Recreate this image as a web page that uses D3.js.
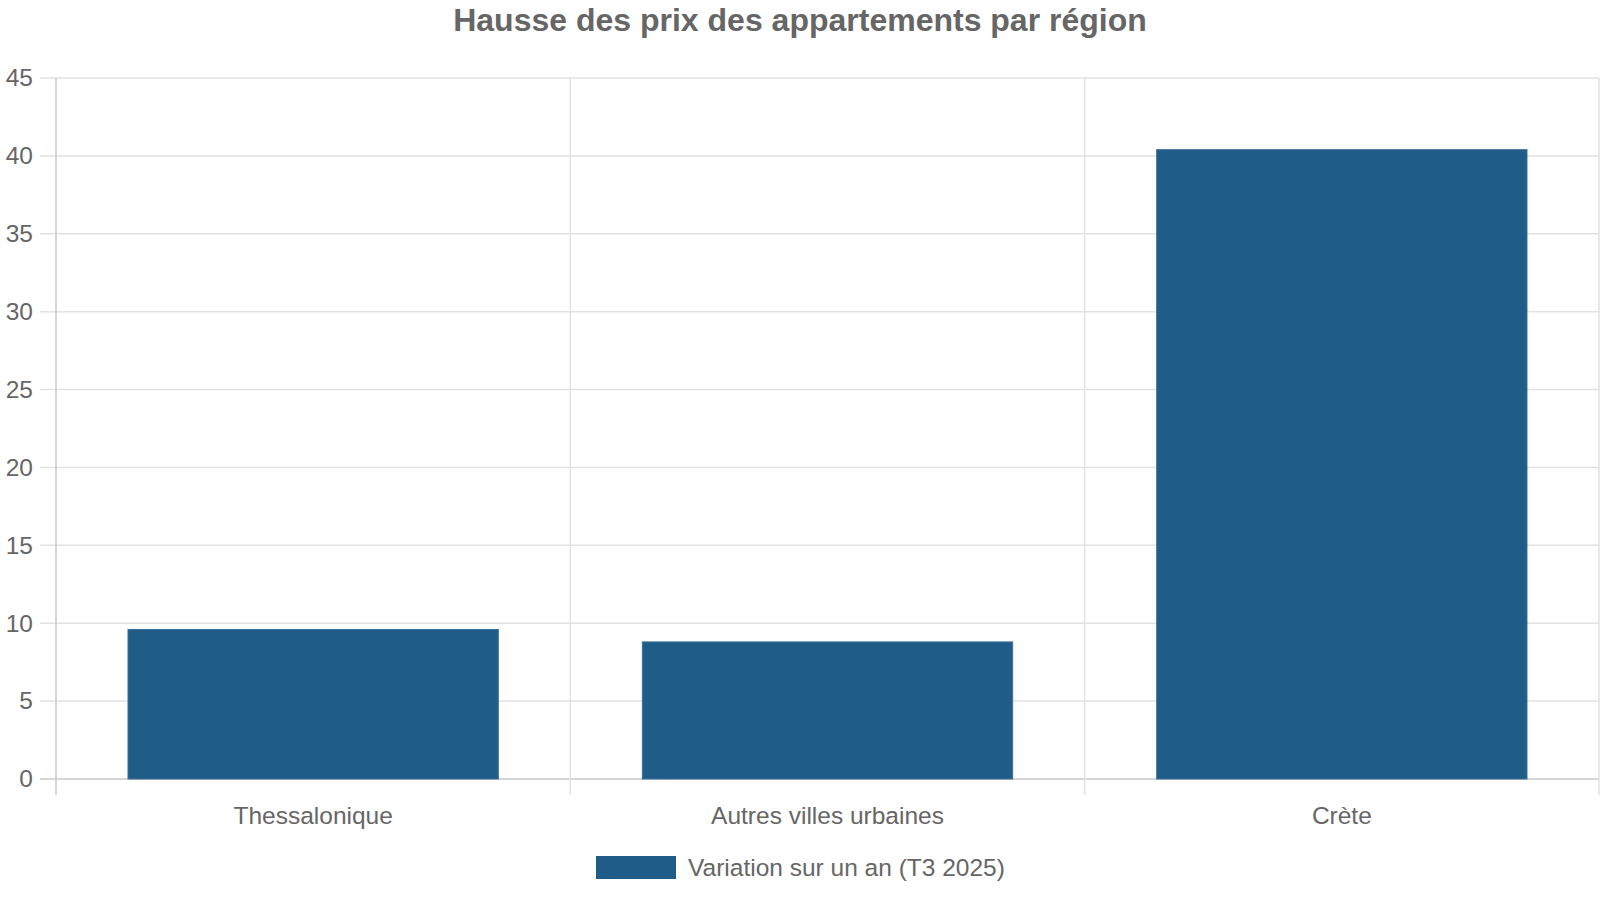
<!DOCTYPE html>
<html>
<head>
<meta charset="utf-8">
<script src="https://cdn.jsdelivr.net/npm/d3@7"></script>
<style>
  body { margin: 0; background: #fff; }
  text { font-family: "Liberation Sans", Arial, sans-serif; fill: #666; }
</style>
</head>
<body>
<div id="chart"></div>
<script>
// data
var regions = ["Thessalonique", "Autres villes urbaines", "Crète"];
var variation = [9.6, 8.8, 40.4];
var yTicks = [0, 5, 10, 15, 20, 25, 30, 35, 40, 45];
var seriesName = "Variation sur un an (T3 2025)";
var titleText = "Hausse des prix des appartements par région";

var width = 1600, height = 900;
var plotLeft = 56, plotRight = 1599, plotTop = 78, plotBottom = 779;
var barColor = "#1f5c87";

var svg = d3.select("#chart").append("svg")
    .attr("width", width)
    .attr("height", height);

var x = d3.scaleBand().domain(regions).range([plotLeft, plotRight]).paddingInner(0).paddingOuter(0);
var y = d3.scaleLinear().domain([0, 45]).range([plotBottom, plotTop]);

// horizontal grid
svg.append("g").selectAll("line")
  .data(yTicks)
  .enter().append("line")
    .attr("x1", plotLeft - 16).attr("x2", plotRight)
    .attr("y1", d => y(d)).attr("y2", d => y(d))
    .attr("stroke", d => d === 0 ? "#c8c8c8" : "#e2e2e2")
    .attr("stroke-width", 1.5);

// vertical grid (category borders)
var xEdges = regions.map(r => x(r)).concat([plotRight]);
svg.append("g").selectAll("line")
  .data(xEdges)
  .enter().append("line")
    .attr("x1", d => d).attr("x2", d => d)
    .attr("y1", plotTop).attr("y2", plotBottom + 16)
    .attr("stroke", (d, i) => i === 0 ? "#c8c8c8" : "#e2e2e2")
    .attr("stroke-width", 1.5);

// bars
var bw = x.bandwidth() * 0.72;
svg.append("g").selectAll("rect")
  .data(variation)
  .enter().append("rect")
    .attr("x", (d, i) => x(regions[i]) + (x.bandwidth() - bw) / 2)
    .attr("y", d => y(d))
    .attr("width", bw)
    .attr("height", d => y(0) - y(d))
    .attr("fill", barColor)
    .attr("stroke", "#3a7099")
    .attr("stroke-width", 1);

// y axis labels
var yAxis = svg.append("g")
    .attr("transform", `translate(${plotLeft},0)`)
    .call(d3.axisLeft(y).tickValues(yTicks).tickSize(16).tickPadding(7));
yAxis.select(".domain").remove();
yAxis.selectAll(".tick line").remove();
yAxis.selectAll("text")
    .style("font-size", "24.5px")
    .style("font-family", "Liberation Sans, Arial, sans-serif")
    .attr("fill", "#666");

// x axis labels
var xAxis = svg.append("g")
    .attr("transform", `translate(0,${plotBottom})`)
    .call(d3.axisBottom(x).tickSize(16).tickPadding(12));
xAxis.select(".domain").remove();
xAxis.selectAll(".tick line").remove();
xAxis.selectAll("text")
    .style("font-size", "24.5px")
    .style("font-family", "Liberation Sans, Arial, sans-serif")
    .attr("fill", "#666");

// title
svg.append("text")
    .attr("x", width / 2)
    .attr("y", 31)
    .attr("text-anchor", "middle")
    .style("font-size", "32px")
    .style("font-weight", "bold")
    .text(titleText);

// legend
var legend = svg.append("g").attr("transform", "translate(596,856)");
legend.append("rect")
    .attr("width", 80).attr("height", 23)
    .attr("fill", barColor);
legend.append("text")
    .attr("x", 92).attr("y", 20)
    .style("font-size", "24.5px")
    .text(seriesName);
</script>
</body>
</html>
